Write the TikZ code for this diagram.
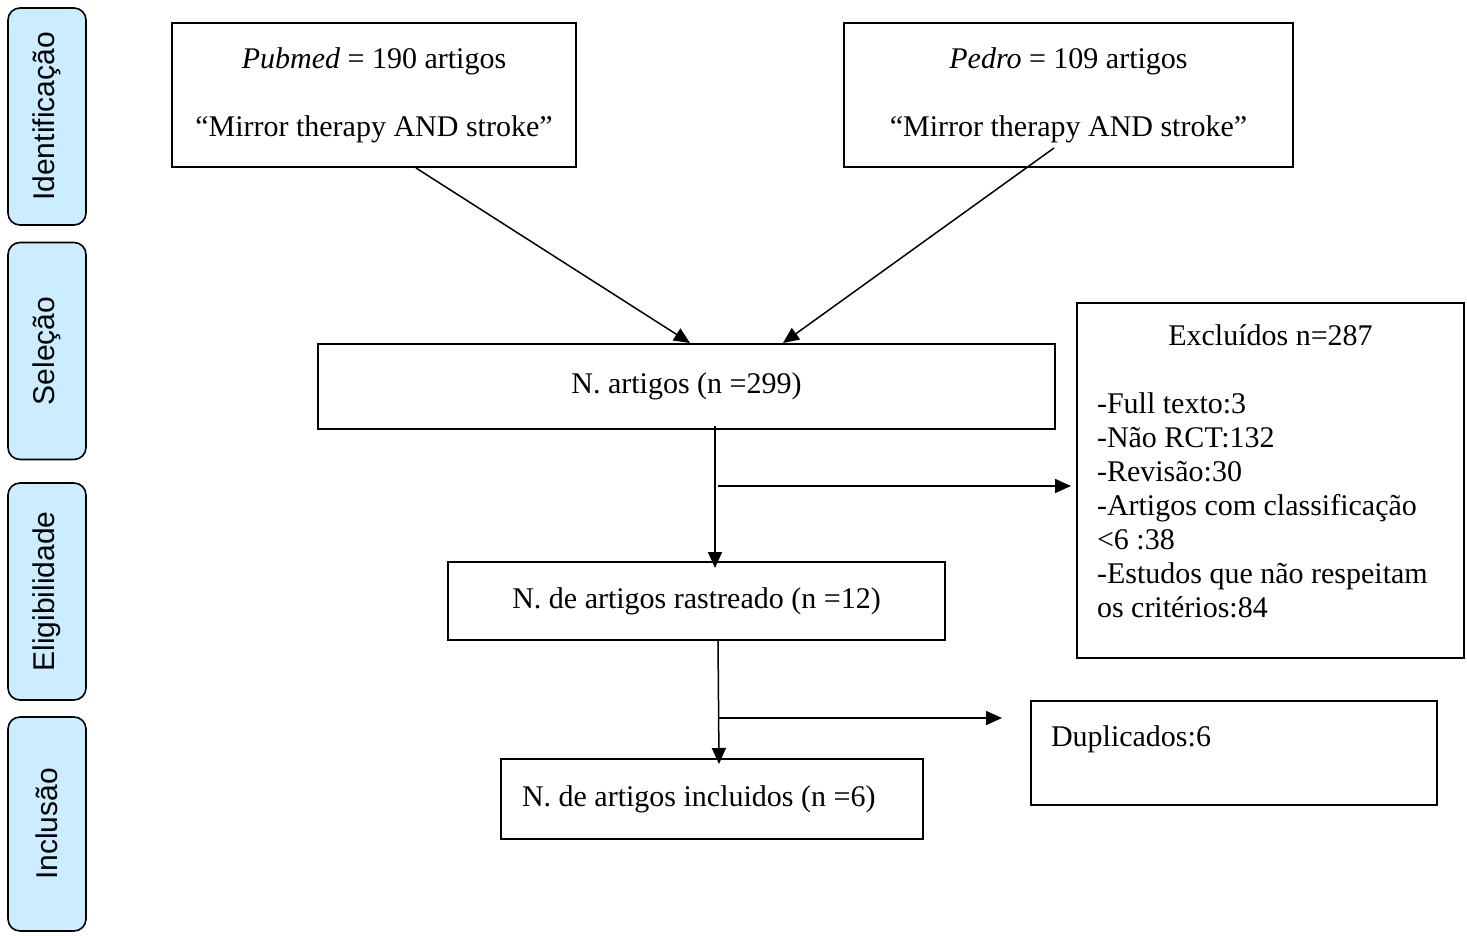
\documentclass[tikz,border=0pt]{standalone}
\usepackage{fontspec}
\setmainfont{Liberation Serif}
\newfontfamily\tabfont{Liberation Sans}
\usetikzlibrary{arrows.meta,positioning}
\definecolor{tabblue}{RGB}{204,236,255}

\begin{document}
\begin{tikzpicture}[
    x=0.5pt, y=-0.5pt,
    every node/.style={font=\fontsize{15}{17}\selectfont},
    box/.style={draw, line width=1pt, anchor=north west, inner sep=0pt},
    stage/.style={draw, line width=0.8pt, rounded corners=6pt, fill=tabblue,
        rotate=90, minimum width=108.5pt, minimum height=39pt,
        font=\tabfont\fontsize{15}{17}\selectfont},
    arr/.style={-{Triangle[length=8pt,width=7pt]}, line width=0.75pt}
]
    \useasboundingbox (0,0) rectangle (1467,936);

    % stages on the left
    \node[stage] (ident) at (47,116.5) {Identificação};
    \node[stage] (selec) at (47,351) {Seleção};
    \node[stage] (elig) at (47,591.5) {Eligibilidade};
    \node[stage, minimum width=107pt] (inclu) at (47,824) {Inclusão};

    % boxes
    \node[box, minimum width=202pt, minimum height=72pt, align=center] (pubmed) at (171,22)
        {\textit{Pubmed} = 190 artigos\\[17pt]“Mirror therapy AND stroke”};
    \node[box, minimum width=224.5pt, minimum height=72pt, align=center] (pedro) at (843,22)
        {\textit{Pedro} = 109 artigos\\[17pt]“Mirror therapy AND stroke”};
    \node[box, minimum width=368.5pt, minimum height=42.5pt] (total) at (317,343) {N. artigos (n =299)};
    \node[box, minimum width=248.5pt, minimum height=39pt] (screen) at (447,561) {N. de artigos rastreado (n =12)};
    \node[box, minimum height=40pt, text width=190pt, inner xsep=10.5pt, align=flush left] (final) at (500,758)
        {N. de artigos incluidos (n =6)};
    \node[box, minimum height=177.5pt, text width=173.5pt, inner xsep=10pt, align=flush left] (excl) at (1076,302)
        {\hbox to \hsize{\hss Excluídos n=287\hss}\\[17pt]
         -Full texto:3\\
         -Não RCT:132\\
         -Revisão:30\\
         -Artigos com classificação\\
         <6 :38\\
         -Estudos que não respeitam\\
         os critérios:84\rule[-9pt]{0pt}{1pt}};
    \node[box, minimum height=52pt, text width=183pt, inner xsep=10pt, align=flush left] (dup) at (1030,700)
        {Duplicados:6\\\mbox{}};

    \coordinate (split1) at (718,486);
    \coordinate (split2) at (718,718);

    % connectors
    \draw[arr] ([xshift=21pt]pubmed.south) -- ([xshift=1.75pt]total.north);
    \draw[arr] ([xshift=-7.25pt,yshift=10pt]pedro.south) -- ([xshift=48.25pt]total.north);
    \draw[arr] ([xshift=14.25pt,yshift=2pt]total.south) -- ([xshift=9.25pt,yshift=-3.5pt]screen.north);
    \draw[arr, shorten >=2.5pt] (split1) -- (excl.west |- split1);
    \draw[arr] ([xshift=10.75pt,yshift=1pt]screen.south) -- ([xshift=3.5pt,yshift=-3pt]final.north);
    \draw[arr, shorten >=14pt] (split2) -- (dup.west |- split2);
\end{tikzpicture}
\end{document}
